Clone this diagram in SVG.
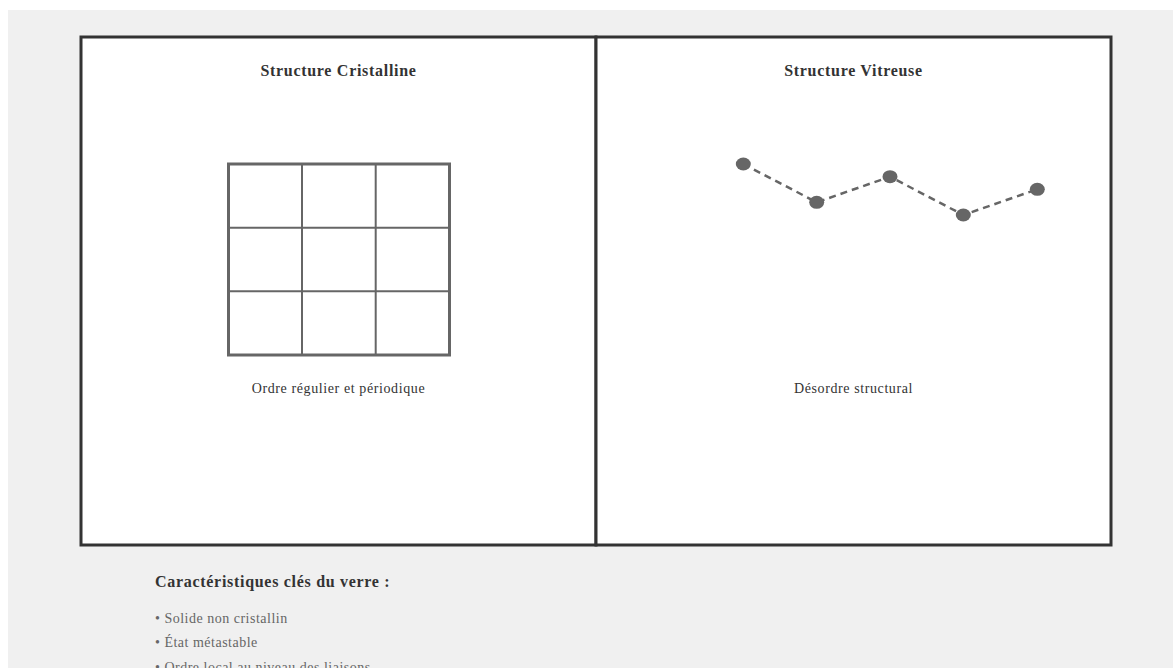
<svg xmlns="http://www.w3.org/2000/svg" width="1173" height="668" viewBox="0 0 1173 668">
<style>
.panel{fill:#fff;stroke:#333;stroke-width:3}
.title{font-family:"Liberation Serif",serif;font-size:16px;letter-spacing:0.7px;font-weight:bold;fill:#333;text-anchor:middle}
.cap{font-family:"Liberation Serif",serif;font-size:14px;letter-spacing:0.6px;fill:#333;text-anchor:middle}
.grid{fill:none;stroke:#666}
.dot{fill:#666}
.link{fill:none;stroke:#666;stroke-width:2.5;stroke-dasharray:7 5}
.head{font-family:"Liberation Serif",serif;font-size:16px;letter-spacing:0.7px;font-weight:bold;fill:#333}
.item{font-family:"Liberation Serif",serif;font-size:14px;letter-spacing:0.5px;fill:#666}
</style>
<rect x="0" y="0" width="1173" height="668" fill="#fff"/>
<rect x="8" y="10" width="1165" height="658" fill="#f0f0f0"/>
<g id="crystalline">
<rect class="panel" x="81" y="37" width="515" height="508"/>
<text class="title" x="338.5" y="76">Structure Cristalline</text>
<rect class="grid" x="228.5" y="164" width="221" height="191" stroke-width="3"/>
<g class="grid" stroke-width="2">
<line x1="302" y1="164" x2="302" y2="355"/>
<line x1="375.7" y1="164" x2="375.7" y2="355"/>
<line x1="228.5" y1="227.7" x2="449.5" y2="227.7"/>
<line x1="228.5" y1="291.3" x2="449.5" y2="291.3"/>
</g>
<text class="cap" x="338.5" y="393">Ordre régulier et périodique</text>
</g>
<g id="vitreous">
<rect class="panel" x="596" y="37" width="515" height="508"/>
<text class="title" x="853.5" y="76">Structure Vitreuse</text>
<text class="cap" x="853.5" y="393">Désordre structural</text>
</g>
<g id="connectors">
<polyline class="link" points="743.3,164 816.7,202.3 890,176.7 963.3,215 1037.3,189.3"/>
</g>
<g id="atoms">
<ellipse class="dot" cx="743.3" cy="164" rx="7.5" ry="6.5"/>
<ellipse class="dot" cx="816.7" cy="202.3" rx="7.5" ry="6.5"/>
<ellipse class="dot" cx="890" cy="176.7" rx="7.5" ry="6.5"/>
<ellipse class="dot" cx="963.3" cy="215" rx="7.5" ry="6.5"/>
<ellipse class="dot" cx="1037.3" cy="189.3" rx="7.5" ry="6.5"/>
</g>
<g id="legend">
<text class="head" x="155" y="587">Caractéristiques clés du verre :</text>
<text class="item" x="155" y="623">• Solide non cristallin</text>
<text class="item" x="155" y="647">• État métastable</text>
<text class="item" x="155" y="672">• Ordre local au niveau des liaisons</text>
</g>
</svg>
